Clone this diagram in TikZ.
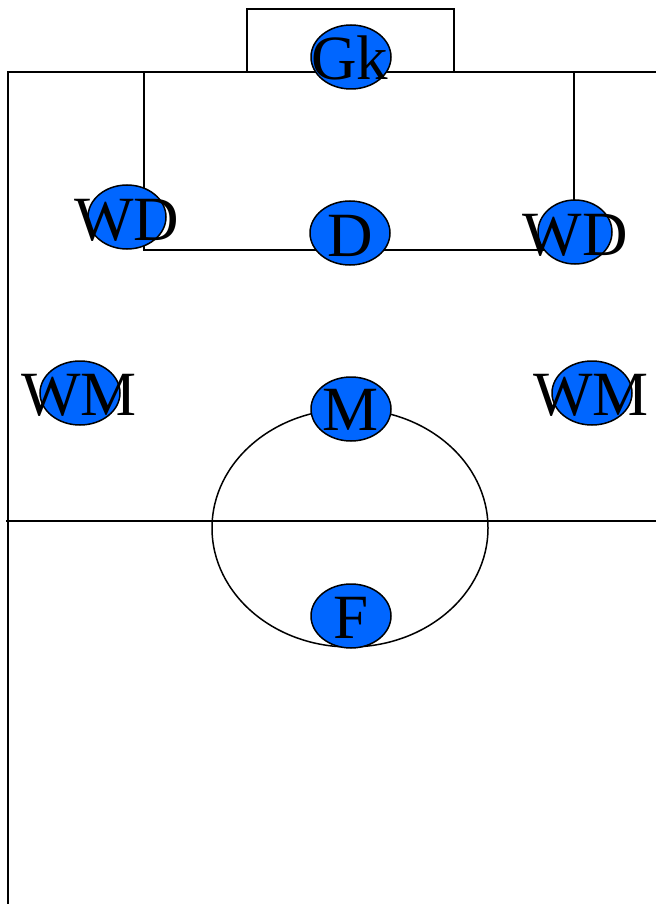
\documentclass[tikz,border=0pt]{standalone}
\usepackage{fontspec}
\setmainfont{Liberation Serif}
\usetikzlibrary{shapes.geometric}
\definecolor{playerblue}{RGB}{0,102,255}
\tikzset{
  pitchline/.style={draw=black, line width=1.5pt},
  player/.style={ellipse, draw=black, line width=1.5pt, fill=playerblue,
    minimum width=80pt, minimum height=64pt, inner sep=0pt},
  plabel/.style={font=\fontsize{63}{63}\selectfont, inner sep=0pt, text=black}
}
\begin{document}
\begin{tikzpicture}[x=1pt,y=-1pt]
\useasboundingbox (0,0) rectangle (656,904);
% pitch lines
\draw[pitchline] (247,72) -- (247,9) -- (454,9) -- (454,72);
\draw[pitchline] (8,904) -- (8,72) -- (656,72);
\draw[pitchline] (144,72) -- (144,250) -- (574,250) -- (574,72);
\draw[pitchline] (6,521) -- (656,521);
\draw[pitchline] (350,528) ellipse [x radius=138, y radius=119];
% players
\node[player] (gk) at (351,57) {};
\node[player, minimum width=78pt] (wdl) at (127,217) {};
\node[player] (d) at (350,233) {};
\node[player, minimum width=74pt] (wdr) at (575,232) {};
\node[player] (wml) at (80,393) {};
\node[player] (wmr) at (592,393) {};
\node[player] (m) at (351,409) {};
\node[player] (f) at (351,616) {};
% labels
\node[plabel] (tgk) at (350,58) {Gk};
\node[plabel] (twdl) at (127,220) {WD};
\node[plabel] (td) at (350,236) {D};
\node[plabel] (twdr) at (575,235) {WD};
\node[plabel] (twml) at (79,395) {WM};
\node[plabel] (twmr) at (591,395) {WM};
\node[plabel] (tm) at (351,410) {M};
\node[plabel] (tf) at (351,618) {F};
\end{tikzpicture}
\end{document}
